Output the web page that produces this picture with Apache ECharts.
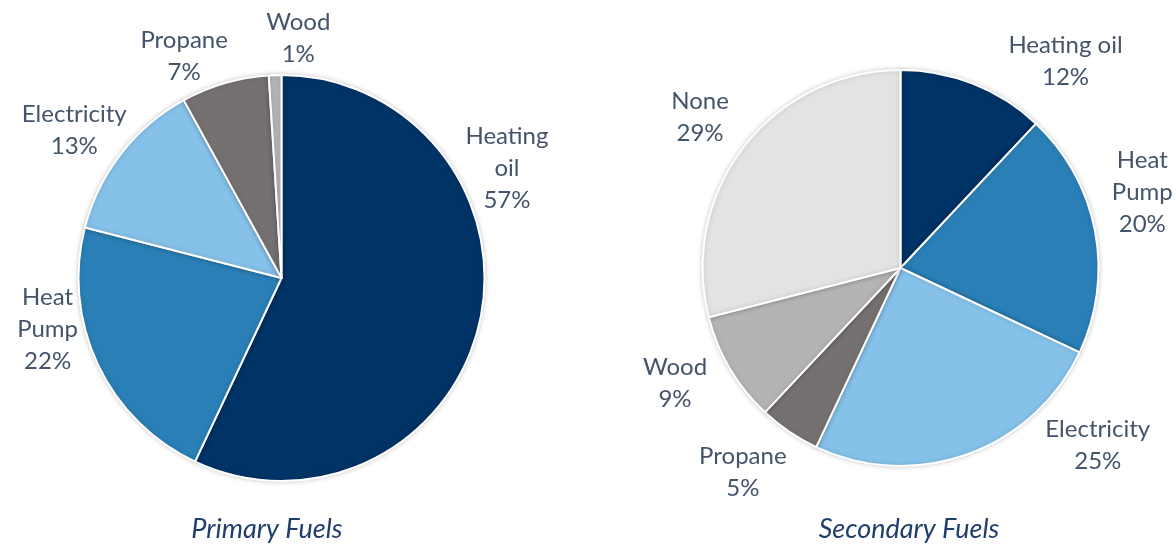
<!DOCTYPE html>
<html>
<head>
<meta charset="utf-8">
<script src="https://cdn.jsdelivr.net/npm/echarts@6/dist/echarts.min.js"></script>
<style>
  html, body { margin: 0; padding: 0; background: #ffffff; }
  #chart { width: 1176px; height: 546px; }
</style>
</head>
<body>
<div id="chart"></div>
<script>
// ---- data ----
const primaryNames  = ['Heating oil', 'Heat Pump', 'Electricity', 'Propane', 'Wood'];
const primaryLabels = ['Heating\noil', 'Heat\nPump', 'Electricity', 'Propane', 'Wood'];
const primaryValues = [57, 22, 13, 7, 1];

const secondaryNames  = ['Heating oil', 'Heat Pump', 'Electricity', 'Propane', 'Wood', 'None'];
const secondaryLabels = ['Heating oil', 'Heat\nPump', 'Electricity', 'Propane', 'Wood', 'None'];
const secondaryValues = [12, 20, 25, 5, 9, 29];

const titles = ['Primary Fuels', 'Secondary Fuels'];

// ---- styling / layout ----
const primaryColors   = ['#003366', '#2a7fb6', '#85c1e9', '#767171', '#b4b4b4'];
const secondaryColors = ['#003366', '#2a7fb6', '#85c1e9', '#767171', '#b5b3b4', '#e3e2e4'];

const pies = [
  { center: [281.5, 278], radius: 203, gap: 5,
    labelAngles: [64, 257.6, 305.5, 336.3, 4] },
  { center: [900.5, 268], radius: 198, gap: 23,
    labelAngles: [38.6, 72.6, 132, 217.7, 243, 307] }
];

const labelFont = 'Lato, "Open Sans", sans-serif';
const labelColor = '#44546a';
const titleColor = '#1f3d6d';

function buildData(names, labels, values, colors) {
  return names.map((n, i) => ({
    name: n,
    value: values[i],
    wrapped: labels[i],
    itemStyle: { color: colors[i] }
  }));
}

function labelLayoutFor(p) {
  return function (params) {
    const a = p.labelAngles[params.dataIndex] * Math.PI / 180;
    const w = params.labelRect.width, h = params.labelRect.height;
    const s = Math.sin(a), c = Math.cos(a);
    const ext = Math.sqrt(Math.pow(w / 2 * s, 2) + Math.pow(h / 2 * c, 2));
    const d = p.radius + p.gap + ext;
    return {
      x: p.center[0] + d * s,
      y: p.center[1] - d * c,
      align: 'center',
      verticalAlign: 'middle'
    };
  };
}

function pieSeries(p, data) {
  return {
    type: 'pie',
    center: p.center,
    radius: p.radius,
    startAngle: 90,
    clockwise: true,
    avoidLabelOverlap: false,
    animation: false,
    data: data,
    itemStyle: {
      borderColor: '#ffffff',
      borderWidth: 2,
      shadowBlur: 5,
      shadowColor: 'rgba(0,0,0,0.18)'
    },
    label: {
      show: true,
      position: 'outside',
      formatter: (prm) => prm.data.wrapped + '\n' + prm.value + '%',
      color: labelColor,
      fontFamily: labelFont,
      fontSize: 24,
      lineHeight: 32,
      align: 'center'
    },
    labelLine: { show: false },
    labelLayout: labelLayoutFor(p),
    emphasis: { disabled: true }
  };
}

const titleStyle = { fontFamily: labelFont, fontStyle: 'italic', fontWeight: 'normal', fontSize: 27, color: titleColor };

const chart = echarts.init(document.getElementById('chart'), null, { renderer: 'canvas' });
chart.setOption({
  backgroundColor: '#ffffff',
  title: [
    { text: titles[0], left: 262, top: 511, textAlign: 'center', textStyle: titleStyle },
    { text: titles[1], left: 904, top: 511, textAlign: 'center', textStyle: titleStyle }
  ],
  series: [
    pieSeries(pies[0], buildData(primaryNames, primaryLabels, primaryValues, primaryColors)),
    pieSeries(pies[1], buildData(secondaryNames, secondaryLabels, secondaryValues, secondaryColors))
  ]
});
</script>
</body>
</html>
